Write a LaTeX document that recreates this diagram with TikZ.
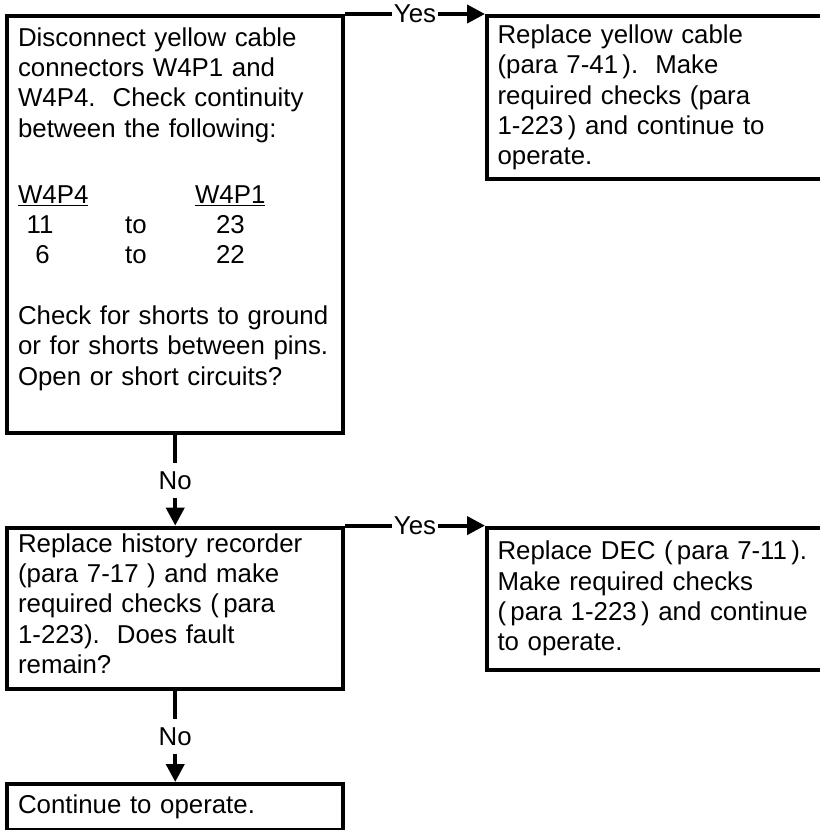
\documentclass[tikz,border=0pt]{standalone}
\usepackage{fontspec}
\setmainfont{Liberation Sans}
\usepackage{tikz}
\usetikzlibrary{arrows.meta}
\newcommand{\dsp}{\hspace{.66em}}
\newcommand{\pincol}[2]{\makebox[#1][l]{#2}}
\tikzset{
  stp/.style={draw=black,line width=3.8pt,anchor=north west,align=left,
              text width=10.48cm,inner xsep=10pt,inner ysep=0pt,
              font=\fontsize{24.5pt}{28.7pt}\selectfont},
  yn/.style={fill=white,inner xsep=2pt,inner ysep=8pt,
             font=\fontsize{24.5pt}{28.7pt}\selectfont},
  flw/.style={draw=black,line width=3.8pt,-{Triangle[length=.6cm,width=.6cm]}},
}

\begin{document}
\begin{tikzpicture}
\useasboundingbox (0,0) rectangle (27.333,-27.667);
% left column: the checks, top to bottom
\node[stp,minimum height=13.9cm] (cbl) at (0.183,-0.467)
  {Disconnect yellow cable\\
   connectors W4P1 and\\
   W4P4.\dsp Check continuity\\
   between the following:\\[1.2cm]
   \pincol{5.9cm}{\underline{W4P4}}\underline{W4P1}\\
   \pincol{3.57cm}{\ 11}\pincol{3.03cm}{to}23\\
   \pincol{3.57cm}{\ \ 6}\pincol{3.03cm}{to}22\\[1.02cm]
   Check for shorts to ground\\
   or for shorts between pins.\\
   Open or short circuits?\\[0.2cm]
   \mbox{}};
\node[stp,minimum height=5.367cm] (hst) at (0.183,-17.52)
  {Replace history recorder\\
   (para 7-17 ) and make\\
   required checks (\,para\\
   1-223).\dsp Does fault\\
   remain?\strut};
\node[stp,minimum height=1.533cm] (opr) at (0.183,-26.067)
  {Continue to operate.};
% right column: the repairs
\node[stp,minimum height=5.433cm] (ycb) at (16.167,-0.467)
  {Replace yellow cable\\
   (para 7-41\,).\dsp Make\\
   required checks (para\\
   1-223\,) and continue to\\
   operate.};
\node[stp,minimum height=4.733cm] (dec) at (16.167,-17.52)
  {Replace DEC (\,para 7-11\,).\\
   Make required checks\\
   (\,para 1-223\,) and continue\\
   to operate.};
% yes/no branches
\draw[flw] (cbl.north east) -- node[yn] {Yes} (ycb.north west);
\draw[flw] (cbl.south) -- node[yn] {No} (hst.north);
\draw[flw] (hst.north east) -- node[yn] {Yes} (dec.north west);
\draw[flw] (hst.south) -- node[yn] {No} (opr.north);
\end{tikzpicture}
\end{document}
